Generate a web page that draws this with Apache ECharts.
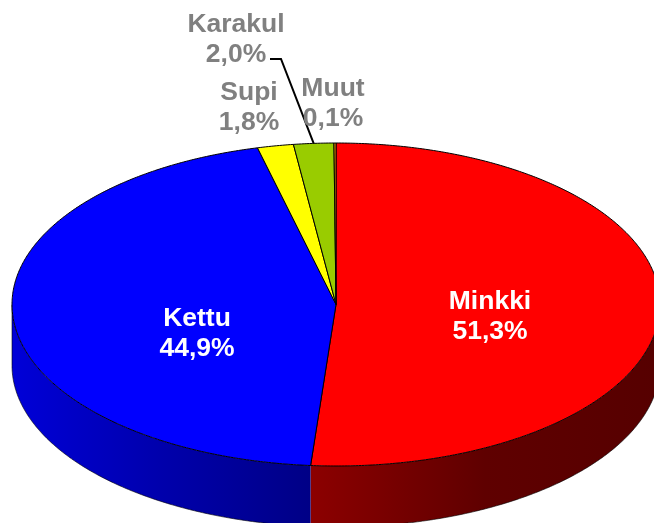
<!DOCTYPE html>
<html>
<head>
<meta charset="utf-8">
<style>
html,body{margin:0;padding:0;background:#fff}
#main{width:654px;height:523px}
</style>
<script src="https://cdn.jsdelivr.net/npm/echarts@6/dist/echarts.min.js"></script>
</head>
<body>
<div id="main"></div>
<script>
// values clockwise from 12 o'clock
var categories = ['Minkki', 'Kettu', 'Supi', 'Karakul', 'Muut'];
var shares = [51.3, 44.9, 1.8, 2.0, 0.1];
var shareLabels = ['51,3%', '44,9%', '1,8%', '2,0%', '0,1%'];

var topColors = ['#ff0000', '#0000ff', '#ffff00', '#99cc00', '#ff9900'];
// wall shading, left to right
var wallColors = [['#8c0000', '#5f0000', '#560000'], ['#0000d8', '#0000ac', '#000086']];
var labelAt = [[490, 317], [197, 334], [249, 108], [236, 40], [333, 104]];
var labelColors = ['#fff', '#fff', '#808080', '#808080', '#808080'];

var cx = 336, cy = 304.5, rx = 324, ry = 161.5, depth = 61;
var total = shares.reduce(function (a, b) { return a + b; }, 0);

function rim(deg, drop) {
    var r = deg * Math.PI / 180;
    return [cx + rx * Math.sin(r), cy - ry * Math.cos(r) + (drop || 0)];
}
function arc(from, to, drop) {
    var pts = [], n = Math.max(2, Math.ceil(Math.abs(to - from) * 2));
    for (var i = 0; i <= n; i++) {
        pts.push(rim(from + (to - from) * i / n, drop));
    }
    return pts;
}
function startAngle(idx) {
    var s = 0;
    for (var i = 0; i < idx; i++) s += shares[i];
    return s / total * 360;
}

function renderSlice(params, api) {
    var idx = params.dataIndex;
    var from = startAngle(idx);
    var to = from + api.value(0) / total * 360;
    var children = [];

    // front wall only between 90 and 270 degrees
    var a = Math.max(from, 90), b = Math.min(to, 270);
    if (b > a) {
        var upper = arc(a, b, 0), lower = arc(a, b, depth);
        var xs = upper.concat(lower).map(function (p) { return p[0]; });
        var x0 = Math.min.apply(null, xs), x1 = Math.max.apply(null, xs);
        var stops = wallColors[idx];
        children.push({
            type: 'polygon',
            shape: { points: upper.concat(lower.slice().reverse()) },
            style: {
                fill: {
                    type: 'linear', x: x0, y: 0, x2: x1, y2: 0, global: true,
                    colorStops: [
                        { offset: 0, color: stops[0] },
                        { offset: 0.5, color: stops[1] },
                        { offset: 1, color: stops[2] }
                    ]
                }
            }
        });
        children.push({
            type: 'polyline',
            shape: { points: lower },
            style: { fill: null, stroke: '#000', lineWidth: 0.6 }
        });
        if (a == 90 || b == 270) {
            var side = b == 270 ? 270 : 90;
            children.push({
                type: 'line',
                shape: { x1: rim(side, 0)[0], y1: rim(side, 0)[1], x2: rim(side, depth)[0], y2: rim(side, depth)[1] },
                style: { stroke: '#000', lineWidth: 0.6 }
            });
        }
    }

    children.push({
        type: 'polygon',
        shape: { points: [[cx, cy]].concat(arc(from, to, 0)) },
        style: { fill: topColors[idx], stroke: '#000', lineWidth: 1, lineJoin: 'round' }
    });

    return { type: 'group', children: children };
}

function renderLabel(params, api) {
    var idx = params.dataIndex;
    var children = [{
        type: 'text',
        style: {
            x: labelAt[idx][0],
            y: labelAt[idx][1],
            text: categories[idx] + '\n' + shareLabels[idx],
            fill: labelColors[idx],
            font: 'bold 26.5px "Liberation Sans", Arial, sans-serif',
            lineHeight: 30,
            align: 'center',
            verticalAlign: 'middle'
        }
    }];
    // leader for Karakul
    if (categories[idx] == 'Karakul') {
        var end = rim(startAngle(idx) + shares[idx] / total * 180, 0);
        children.push({
            type: 'polyline',
            shape: { points: [[270, 59], [281, 59], end] },
            style: { fill: null, stroke: '#000', lineWidth: 2 }
        });
    }
    return { type: 'group', children: children };
}

var rows = shares.map(function (v, i) { return [v, categories[i]]; });

var myChart = echarts.init(document.getElementById('main'));
myChart.setOption({
    animation: false,
    series: [
        { type: 'custom', coordinateSystem: 'none', renderItem: renderSlice, data: rows, z: 1 },
        { type: 'custom', coordinateSystem: 'none', renderItem: renderLabel, data: rows, z: 2 }
    ]
});
</script>
</body>
</html>
